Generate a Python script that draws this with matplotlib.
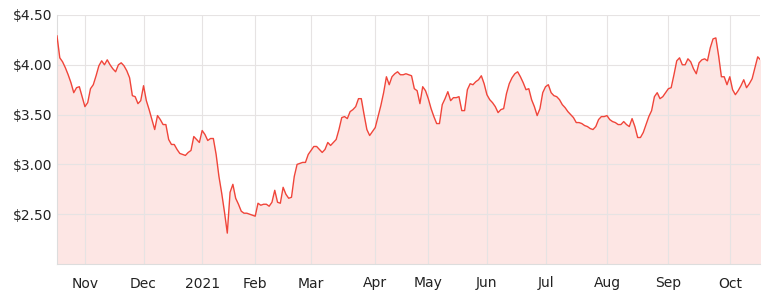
import matplotlib
matplotlib.use("Agg")
import matplotlib.pyplot as plt
import numpy as np
import pandas as pd

# ASX trading days shown on the x axis (one point per trading day)
start_date = "2020-10-19"
end_date = "2021-10-18"
holidays = ["2020-12-25", "2020-12-28", "2021-01-01", "2021-01-26",
            "2021-04-02", "2021-04-05", "2021-04-26", "2021-06-14"]

# closing prices
prices = [
    4.29, 4.07, 4.03, 3.97, 3.90, 3.82, 3.72, 3.77, 3.78, 3.68,
    3.58, 3.62, 3.76, 3.80, 3.89, 3.99, 4.04, 4.00, 4.05, 4.00,
    3.96, 3.93, 4.00, 4.02, 3.99, 3.94, 3.87, 3.69, 3.68, 3.61,
    3.64, 3.79, 3.64, 3.55, 3.45, 3.35, 3.49, 3.45, 3.40, 3.40,
    3.25, 3.20, 3.20, 3.15, 3.11, 3.10, 3.09, 3.12, 3.14, 3.28,
    3.25, 3.22, 3.34, 3.30, 3.24, 3.26, 3.26, 3.10, 2.88, 2.71,
    2.52, 2.31, 2.72, 2.80, 2.66, 2.60, 2.53, 2.51, 2.51, 2.50,
    2.49, 2.48, 2.61, 2.59, 2.60, 2.60, 2.58, 2.62, 2.74, 2.62,
    2.61, 2.77, 2.70, 2.66, 2.67, 2.88, 3.00, 3.01, 3.02, 3.02,
    3.10, 3.14, 3.18, 3.18, 3.15, 3.12, 3.15, 3.22, 3.19, 3.22,
    3.25, 3.35, 3.47, 3.48, 3.46, 3.53, 3.55, 3.58, 3.66, 3.66,
    3.50, 3.35, 3.29, 3.33, 3.37, 3.48, 3.59, 3.72, 3.88, 3.80,
    3.88, 3.91, 3.93, 3.90, 3.90, 3.91, 3.90, 3.89, 3.76, 3.74,
    3.61, 3.78, 3.74, 3.66, 3.56, 3.48, 3.41, 3.41, 3.60, 3.66,
    3.73, 3.64, 3.67, 3.67, 3.68, 3.54, 3.54, 3.75, 3.81, 3.80,
    3.83, 3.85, 3.89, 3.81, 3.70, 3.65, 3.62, 3.58, 3.52, 3.55,
    3.56, 3.71, 3.81, 3.87, 3.91, 3.93, 3.88, 3.82, 3.75, 3.76,
    3.65, 3.58, 3.49, 3.56, 3.72, 3.78, 3.80, 3.72, 3.69, 3.68,
    3.65, 3.60, 3.57, 3.53, 3.50, 3.47, 3.42, 3.42, 3.41, 3.39,
    3.38, 3.36, 3.35, 3.38, 3.45, 3.48, 3.48, 3.49, 3.45, 3.43,
    3.42, 3.40, 3.40, 3.43, 3.40, 3.38, 3.46, 3.38, 3.27, 3.27,
    3.32, 3.40, 3.48, 3.54, 3.68, 3.72, 3.66, 3.68, 3.72, 3.76,
    3.77, 3.90, 4.04, 4.07, 4.00, 4.00, 4.06, 4.03, 3.96, 3.91,
    4.02, 4.05, 4.06, 4.04, 4.17, 4.26, 4.27, 4.09, 3.88, 3.88,
    3.80, 3.88, 3.75, 3.70, 3.74, 3.79, 3.85, 3.77, 3.81, 3.86,
    3.97, 4.08, 4.05,
]

y_ticks = [2.5, 3.0, 3.5, 4.0, 4.5]
y_labels = ["$2.50", "$3.00", "$3.50", "$4.00", "$4.50"]

LINE = "#f0453a"
FILL = "#fde6e4"
GRID = "#e6e3e3"
TEXT = "#222222"

days = pd.bdate_range(start_date, end_date, freq="C", holidays=holidays)
n = min(len(days), len(prices))
days = days[:n]
values = np.array(prices[:n])
pos = np.arange(n)

# first trading day of each month gets a tick
month_key = days.year * 12 + days.month
first_idx = [i for i in range(n) if i == 0 or month_key[i] != month_key[i - 1]]
first_idx = [i for i in first_idx if days[i].day <= 7]
tick_labels = [str(days[i].year) if days[i].month == 1 else days[i].strftime("%b")
               for i in first_idx]

plt.rcParams["font.family"] = ["DejaVu Sans"]

fig = plt.figure(figsize=(7.81, 2.97), dpi=100)
ax = fig.add_axes([57 / 781, 33 / 297, (760.5 - 57) / 781, (264 - 15) / 297])

ax.fill_between(pos, values, 2.0, color=FILL, linewidth=0, zorder=1)
ax.plot(pos, values, color=LINE, linewidth=1.0, zorder=3)

ax.set_xlim(0, n - 1)
ax.set_ylim(2.0, 4.5)
ax.set_yticks(y_ticks)
ax.set_yticklabels(y_labels)
ax.set_xticks(first_idx)
ax.set_xticklabels(tick_labels)

ax.grid(True, color=GRID, linewidth=0.8, zorder=2)
ax.tick_params(axis="both", length=0, labelsize=10, colors=TEXT)
ax.tick_params(axis="x", pad=9)
ax.tick_params(axis="y", pad=3)

for side in ["top", "right"]:
    ax.spines[side].set_visible(False)
ax.spines["left"].set_color("#dddddd")
ax.spines["bottom"].set_color("#dddddd")

fig.savefig("out.png", dpi=100)
